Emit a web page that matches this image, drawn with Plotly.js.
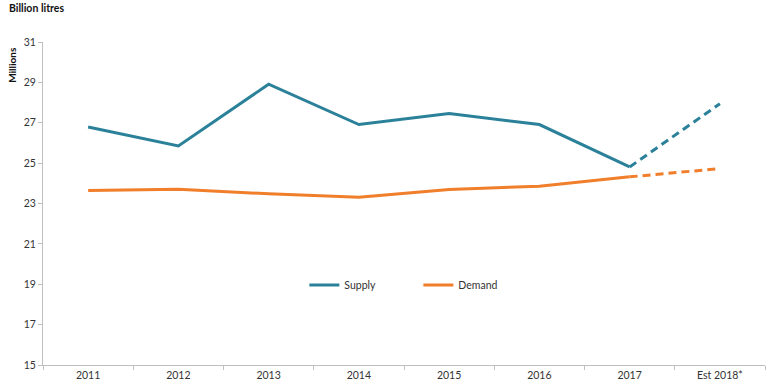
<!DOCTYPE html>
<html>
<head>
<meta charset="utf-8">
<script src="https://cdn.plot.ly/plotly-3.0.1.min.js"></script>
<style>html,body{margin:0;padding:0;background:#fff}#chart{width:770px;height:385px}</style>
</head>
<body>
<div id="chart"></div>
<script>
var categories = ["2011","2012","2013","2014","2015","2016","2017","Est 2018*"];
var supply = [26.79, 25.85, 28.91, 26.91, 27.46, 26.91, 24.81, 27.94];
var demand = [23.64, 23.71, 23.48, 23.31, 23.69, 23.86, 24.32, 24.73];
var yTicks = [15, 17, 19, 21, 23, 25, 27, 29, 31];

var supplyColor = "#2B8199";
var demandColor = "#F07E2B";
var font = "Lato, 'Open Sans', sans-serif";

var nActual = 7;
var traces = [
  {x: categories.slice(0, nActual), y: supply.slice(0, nActual), name: "Supply", type: "scatter", mode: "lines",
   line: {color: supplyColor, width: 3}},
  {x: categories.slice(nActual - 1), y: supply.slice(nActual - 1), name: "Supply est", type: "scatter", mode: "lines",
   line: {color: supplyColor, width: 3, dash: "8px,5px"}, showlegend: false},
  {x: categories.slice(0, nActual), y: demand.slice(0, nActual), name: "Demand", type: "scatter", mode: "lines",
   line: {color: demandColor, width: 3}},
  {x: categories.slice(nActual - 1), y: demand.slice(nActual - 1), name: "Demand est", type: "scatter", mode: "lines",
   line: {color: demandColor, width: 3, dash: "8px,5px"}, showlegend: false}
];

var layout = {
  width: 770, height: 385,
  margin: {l: 43, r: 5, t: 42, b: 20, pad: 0},
  paper_bgcolor: "#fff", plot_bgcolor: "#fff",
  font: {family: font, size: 10.5, color: "#333"},
  showlegend: true,
  legend: {orientation: "h", x: 0.362, xanchor: "left", y: 0.248, yanchor: "middle",
           font: {family: font, size: 10.5, color: "#333"}, entrywidth: 69, bgcolor: "rgba(0,0,0,0)"},
  xaxis: {type: "category", categoryorder: "array", categoryarray: categories,
          range: [-0.5, categories.length - 0.5],
          showline: true, linecolor: "#bfbfbf", linewidth: 1,
          ticks: "outside", tickson: "boundaries", ticklen: 4, tickcolor: "#bfbfbf",
          showgrid: false, zeroline: false, fixedrange: true,
          tickfont: {family: font, size: 10.5, color: "#333"}},
  yaxis: {range: [15, 31], tickvals: yTicks, ticktext: yTicks.map(String),
          showline: true, linecolor: "#bfbfbf", linewidth: 1,
          ticks: "outside", ticklen: 4, tickcolor: "#bfbfbf",
          showgrid: false, zeroline: false, fixedrange: true,
          tickfont: {family: font, size: 10.5, color: "#333"}},
  annotations: [
    {text: "<b>Billion litres</b>", xref: "paper", yref: "paper", x: -0.05, y: 1.105,
     xanchor: "left", yanchor: "middle", showarrow: false,
     font: {family: font, size: 10.5, color: "#111"}},
    {text: "<b>Millions</b>", xref: "paper", yref: "paper", x: -0.044, y: 0.93,
     xanchor: "center", yanchor: "middle", showarrow: false, textangle: -90,
     font: {family: font, size: 10, color: "#111"}}
  ]
};

Plotly.newPlot("chart", traces, layout, {displayModeBar: false, staticPlot: true});
</script>
</body>
</html>
